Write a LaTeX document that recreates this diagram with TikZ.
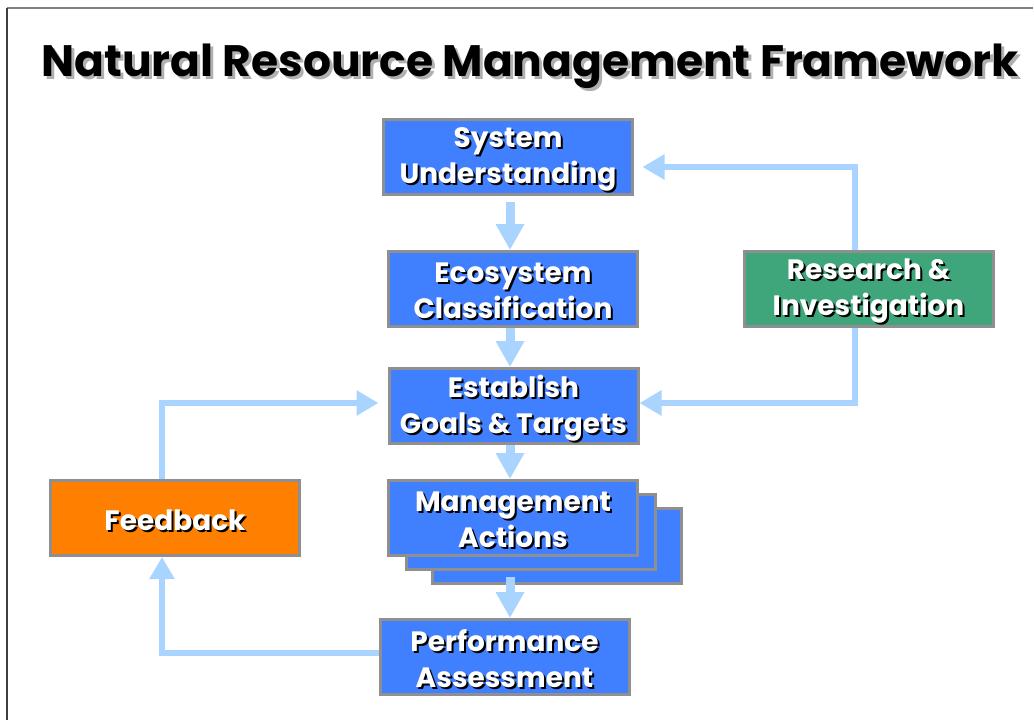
\documentclass[tikz,border=0pt]{standalone}
\usepackage{fontspec}
\setmainfont{Poppins}
\usetikzlibrary{arrows.meta,calc}
\definecolor{boxblue}{HTML}{4080FF}
\definecolor{boxgreen}{HTML}{3EA67A}
\definecolor{boxorange}{HTML}{FF7F00}
\definecolor{boxgray}{HTML}{8F8F8F}
\definecolor{linkblue}{HTML}{A8D4FF}
\definecolor{titleshadow}{HTML}{B0B0B0}

% one line of text over a drop shadow: offset, shadow colour, text
\newcommand\dropline[3]{%
  \makebox[0pt][l]{\hspace{#1}\raisebox{-#1}{\color{#2}#3}}#3}
\newcommand\wl[1]{\dropline{2pt}{black}{#1}}

\begin{document}
\begin{tikzpicture}[x=1pt, y=-1pt,
  stepbox/.style={rectangle, draw=boxgray, line width=3pt, inner sep=0pt,
    minimum width=249pt, minimum height=75pt},
  lbl/.style={font=\bfseries\fontsize{28}{36}\selectfont, align=center,
    inner sep=0pt, text=white, yshift=-3pt},
  conn/.style={draw=linkblue, line width=6pt, -{Triangle[length=22pt,width=24pt]}},
  stub/.style={draw=linkblue, line width=9pt, -{Triangle[length=26pt,width=27pt]}}]
\useasboundingbox (0,0) rectangle (1034,720);
\fill[white] (0,0) rectangle (1034,720);

% frame edges
\draw[gray, line width=2pt] (7,8) -- (1033,8);
\draw[black!75, line width=2pt] (7,8) -- (7,720);

% title
\node[font=\bfseries\fontsize{44}{50}\selectfont, text=black, inner sep=0pt]
  (title) at (530,68) {\dropline{3pt}{titleshadow}{Natural Resource Management Framework}};

% boxes
\node[stepbox, fill=boxblue] (su) at (508,157) {};
\node[stepbox, fill=boxblue] (ec) at (513,289) {};
\node[stepbox, fill=boxgreen] (ri) at (868.5,289) {};
\node[stepbox, fill=boxblue] (es) at (513.5,406) {};
\node[stepbox, fill=boxblue] (ma3) at (557,546) {};
\node[stepbox, fill=boxblue] (ma2) at (530.5,531.5) {};
\node[stepbox, fill=boxblue] (ma) at (513,518) {};
\node[stepbox, fill=boxblue] (pa) at (504.5,657) {};
\node[stepbox, fill=boxorange] (fb) at (175,518) {};

% labels
\node[lbl] (sut) at (su) {\wl{System}\\\wl{Understanding}};
\node[lbl] (ect) at (ec) {\wl{Ecosystem}\\\wl{Classification}};
\node[lbl] (rit) at (ri) {\wl{Research \&}\\\wl{Investigation}};
\node[lbl] (est) at (es) {\wl{Establish}\\\wl{Goals \& Targets}};
\node[lbl] (mat) at (ma) {\wl{Management}\\\wl{Actions}};
\node[lbl] (pat) at (pa) {\wl{Performance}\\\wl{Assessment}};
\node[lbl] (fbt) at (fb) {\wl{Feedback}};

% guide positions for the connectors
\coordinate (cx) at (510,0);
\coordinate (rx) at (855,0);
\coordinate (fx) at (162,0);
\coordinate (ry1) at (0,167);
\coordinate (ry2) at (0,403);
\coordinate (py) at (0,653);

% main chain
\draw[stub, shorten <=6pt] (su.south -| cx) -- (ec.north -| cx);
\draw[stub] (ec.south -| cx) -- (es.north -| cx);
\draw[stub] (es.south -| cx) -- (ma.north -| cx);
\draw[stub, shorten <=-8pt] (ma3.south -| cx) -- (pa.north -| cx);

% research loops
\draw[conn, shorten >=8.5pt] (ri.north -| rx) |- (su.east |- ry1);
\draw[conn] (ri.south -| rx) |- (es.east |- ry2);

% feedback loop
\draw[conn] (pa.west |- py) -| (fb.south -| fx);
\draw[conn, shorten >=9pt] (fb.north -| fx) |- (es.west |- ry2);
\end{tikzpicture}
\end{document}
